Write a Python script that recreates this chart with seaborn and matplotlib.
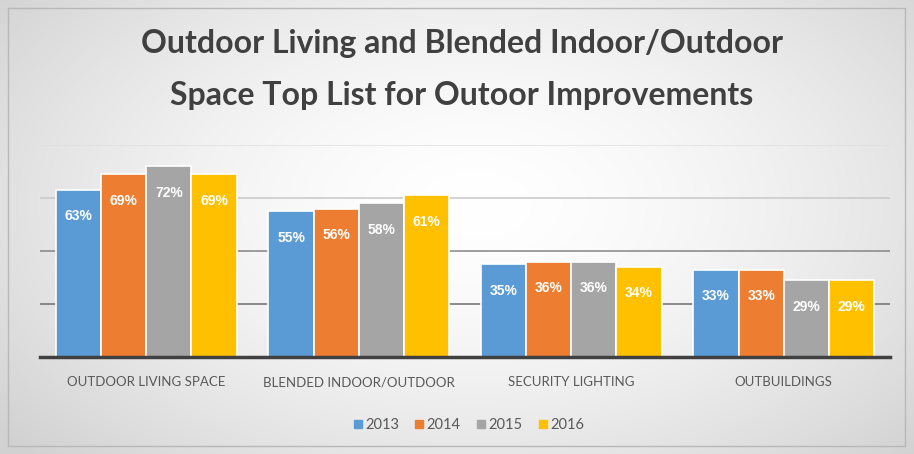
import numpy as np
import pandas as pd
import seaborn as sns
import matplotlib.pyplot as plt

# chart values
categories = ["OUTDOOR LIVING SPACE", "BLENDED INDOOR/OUTDOOR",
              "SECURITY LIGHTING", "OUTBUILDINGS"]
years = ["2013", "2014", "2015", "2016"]
pct_2013 = [63, 55, 35, 33]
pct_2014 = [69, 56, 36, 33]
pct_2015 = [72, 58, 36, 29]
pct_2016 = [69, 61, 34, 29]
colors = ["#5B9BD5", "#ED7D31", "#A5A5A5", "#FFC000"]

df = pd.DataFrame({
    "category": categories * 4,
    "year": sum([[y] * 4 for y in years], []),
    "pct": pct_2013 + pct_2014 + pct_2015 + pct_2016,
})

sns.set_theme(style="white")
plt.rcParams["font.family"] = ["Lato", "DejaVu Sans"]

W, H = 914, 454
fig = plt.figure(figsize=(W / 100, H / 100), dpi=100)

# soft grey radial background like the slide
bg = fig.add_axes([0, 0, 1, 1])
yy, xx = np.mgrid[0:H, 0:W]
r = np.sqrt(((xx - W * 0.52) / (W * 0.62)) ** 2 + ((yy - H * 0.45) / (H * 0.75)) ** 2)
shade = np.clip(1 - 0.16 * r ** 1.6, 0.82, 1)
bg.imshow(np.dstack([shade] * 3), aspect="auto", extent=[0, W, H, 0])
bg.plot([8, 905, 905, 8, 8], [8, 8, 446, 446, 8], color="#b8b8b8", lw=1)
bg.set_xlim(0, W)
bg.set_ylim(H, 0)
bg.axis("off")

ax = fig.add_axes([40 / W, 97 / H, 850 / W, 212 / H])
ax.patch.set_alpha(0)
sns.barplot(data=df, x="category", y="pct", hue="year", palette=colors,
            width=0.85, edgecolor="white", linewidth=1.2, saturation=1,
            legend=False, ax=ax, zorder=3)

ax.set_ylim(0, 80)
ax.set_xlim(-0.5, 3.5)
ax.set_yticks([20, 40, 60, 80])
ax.set_yticklabels([])
ax.tick_params(axis="y", length=0)
ax.tick_params(axis="x", length=0, pad=14, labelsize=9.5, labelcolor="#595959")
ax.grid(axis="y", lw=1.1, zorder=0)
for gl, c in zip(ax.get_ygridlines(), ["#6e6e6e", "#858585", "#c8c8c8", "#e0e0e0"]):
    gl.set_color(c)
ax.set_xlabel("")
ax.set_ylabel("")
for s in ["left", "right", "top"]:
    ax.spines[s].set_visible(False)
ax.spines["bottom"].set_color("#404040")
ax.spines["bottom"].set_linewidth(2.5)
ax.spines["bottom"].set_zorder(5)

for cont in ax.containers:
    for bar in cont:
        h = bar.get_height()
        ax.annotate(f"{h:.0f}%", (bar.get_x() + bar.get_width() / 2, h),
                    xytext=(0, -19), textcoords="offset points",
                    ha="center", va="center", color="white", fontsize=10,
                    fontweight="bold", family=["Liberation Sans", "DejaVu Sans"],
                    zorder=6)

fig.text(0.505, 1 - 44 / H, "Outdoor Living and Blended Indoor/Outdoor",
         ha="center", va="center", fontsize=23, fontweight="bold", color="#404040")
fig.text(0.505, 1 - 96 / H, "Space Top List for Outoor Improvements",
         ha="center", va="center", fontsize=23, fontweight="bold", color="#404040")

handles = [plt.Line2D([], [], marker="s", ls="", color=c, markersize=6) for c in colors]
fig.legend(handles, years, loc="center", bbox_to_anchor=(468 / W, 1 - 425 / H),
           ncol=4, frameon=False, fontsize=10.5, handletextpad=0.1,
           columnspacing=1.0, labelcolor="#595959", handlelength=0.8)

fig.savefig("out.png", dpi=100)
